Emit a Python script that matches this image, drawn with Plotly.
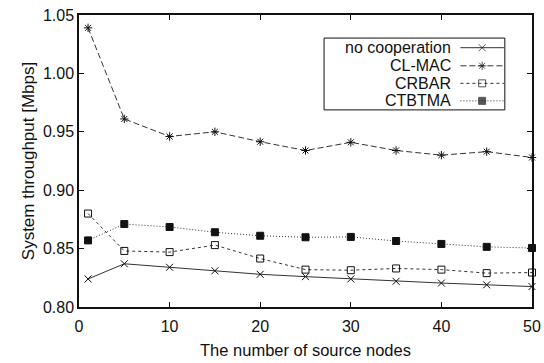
import plotly.graph_objects as go

nodes = [1, 5, 10, 15, 20, 25, 30, 35, 40, 45, 50]
no_coop = [0.824, 0.837, 0.834, 0.831, 0.828, 0.826, 0.824, 0.822, 0.8205, 0.819, 0.8175]
cl_mac = [1.039, 0.961, 0.946, 0.950, 0.9415, 0.934, 0.941, 0.934, 0.930, 0.933, 0.928]
crbar = [0.880, 0.848, 0.847, 0.853, 0.8415, 0.832, 0.8315, 0.833, 0.832, 0.829, 0.8295]
ctbtma = [0.857, 0.871, 0.8685, 0.864, 0.861, 0.8597, 0.860, 0.8565, 0.854, 0.8515, 0.8505]

series_names = ["no cooperation", "CL-MAC", "CRBAR", "CTBTMA"]
series_vals = [no_coop, cl_mac, crbar, ctbtma]
dashes = ["solid", "6px,3px", "3px,3px", "1px,2px"]
symbols = ["x-thin-open", "asterisk-open", "square-open", "square"]
sizes = [7, 7, 7, 7]
col = "#333333"
FONT = "Liberation Sans, Arial, sans-serif"

fig = go.Figure()
for name, vals, d, s, sz in zip(series_names, series_vals, dashes, symbols, sizes):
    fig.add_trace(go.Scatter(
        x=nodes, y=vals, mode="lines+markers", name=name, showlegend=False,
        line=dict(color=col, width=1, dash=d),
        marker=dict(symbol=s, size=sz, color="#111111", line=dict(color="#111111", width=1)),
        cliponaxis=False,
    ))

# custom legend (text left of sample, gnuplot style)
box_x0, box_x1, box_y0, box_y1 = 0.541, 0.940, 0.675, 0.921
row_y = [0.888, 0.826, 0.766, 0.706]
text_x = 0.826
samp_x0, samp_x1 = 0.842, 0.938
for name, d, s, sz, ry in zip(series_names, dashes, symbols, sizes, row_y):
    fig.add_trace(go.Scatter(
        x=[samp_x0, (samp_x0 + samp_x1) / 2, samp_x1], y=[ry, ry, ry],
        xaxis="x2", yaxis="y2", mode="lines+markers", showlegend=False, hoverinfo="skip",
        line=dict(color=col, width=1, dash=d),
        marker=dict(symbol=s, size=[0, sz, 0], color="#111111", line=dict(color="#111111", width=1)),
    ))
    fig.add_annotation(x=text_x, y=ry, xref="paper", yref="paper", text=name,
                       showarrow=False, xanchor="right", yanchor="middle",
                       font=dict(family=FONT, size=16, color="#111111"))
fig.add_shape(type="rect", xref="paper", yref="paper", x0=box_x0, x1=box_x1, y0=box_y0, y1=box_y1,
              line=dict(color="#111111", width=1))

axis_common = dict(
    showgrid=False, zeroline=False, showline=True, linecolor="#111111", linewidth=1.5,
    mirror="ticks", ticks="inside", ticklen=5, tickcolor="#111111", tickwidth=1,
    tickfont=dict(family=FONT, size=16, color="#111111"),
)
fig.update_layout(
    width=544, height=363,
    margin=dict(l=79, r=12, t=15, b=56, autoexpand=False),
    paper_bgcolor="white", plot_bgcolor="white",
    xaxis=dict(range=[0, 50], tickvals=[0, 10, 20, 30, 40, 50], ticklabelstandoff=4,
               title=dict(text="The number of source nodes", font=dict(family=FONT, size=16.5, color="#111111"), standoff=10),
               **axis_common),
    yaxis=dict(range=[0.80, 1.05], tickvals=[0.80, 0.85, 0.90, 0.95, 1.00, 1.05], tickformat=".2f",
               title=dict(text="System throughput [Mbps]", font=dict(family=FONT, size=17, color="#111111"), standoff=4),
               **axis_common),
    xaxis2=dict(overlaying="x", range=[0, 1], visible=False),
    yaxis2=dict(overlaying="y", range=[0, 1], visible=False),
    font=dict(family=FONT),
)
fig.write_html("out.html")
